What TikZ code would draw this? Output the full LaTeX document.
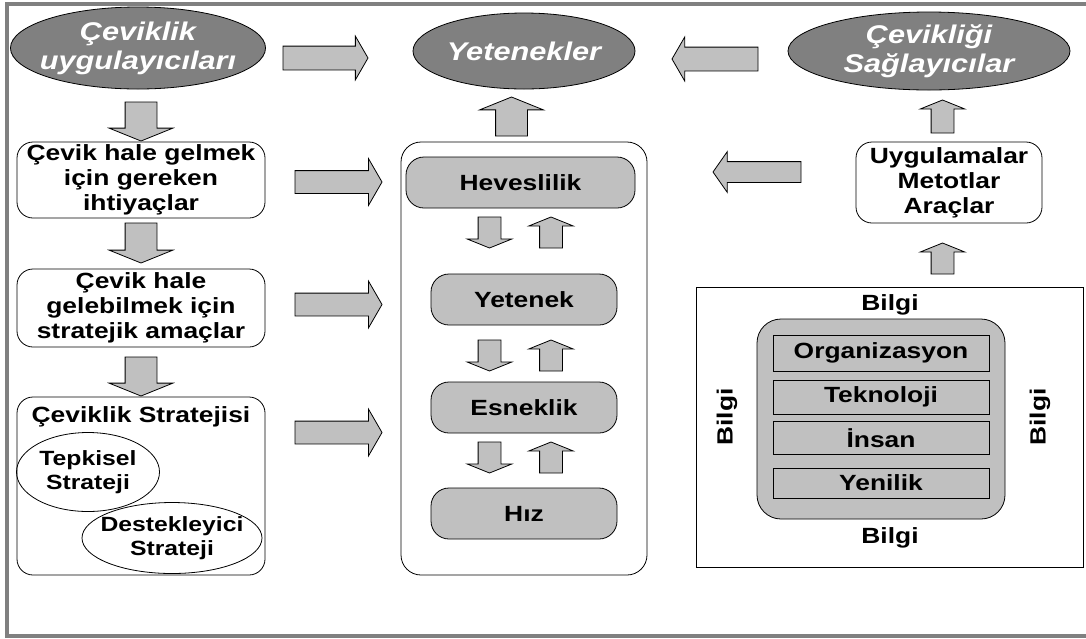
\documentclass[tikz,border=0pt]{standalone}
\usepackage{fontspec}
\setmainfont[FakeStretch=1.2]{Liberation Sans}
\usetikzlibrary{shapes.geometric, shapes.arrows, positioning}
\definecolor{darkGray}{RGB}{128,128,128}
\definecolor{lightGray}{RGB}{192,192,192}
\definecolor{frameGray}{RGB}{128,128,128}

\begin{document}
\begin{tikzpicture}[
    x=0.5pt, y=-0.5pt,
    actor/.style={ellipse, draw, fill=darkGray, text=white, align=center, inner xsep=-4pt, inner ysep=0pt, font=\fontsize{12.8}{14.5}\selectfont\bfseries\itshape},
    stepbox/.style={rectangle, draw, rounded corners=8pt, align=center, inner sep=1pt, font=\fontsize{11}{12.5}\selectfont\bfseries},
    pill/.style={rectangle, draw, fill=lightGray, rounded corners=9pt, minimum height=25.5pt, font=\fontsize{11}{12.5}\selectfont\bfseries},
    stratell/.style={ellipse, draw, align=center, inner xsep=-8pt, inner ysep=-2pt, font=\fontsize{10.3}{12}\selectfont\bfseries},
    layer/.style={rectangle, draw, fill=lightGray, minimum width=108pt, font=\fontsize{11}{12.5}\selectfont\bfseries},
    txt/.style={font=\fontsize{11}{12.5}\selectfont\bfseries},
    blockarrow/.style={single arrow, draw, fill=lightGray, outer sep=0pt, anchor=tail},
    widearrow/.style={blockarrow, inner xsep=0pt, inner ysep=5.5pt, single arrow head extend=6pt, single arrow tip angle=120, minimum height=43pt},
    fatarrow/.style={blockarrow, inner xsep=7.75pt, inner ysep=0pt, single arrow head extend=8pt, single arrow tip angle=136, minimum height=19.5pt},
    smallarrow/.style={blockarrow, inner xsep=5.5pt, inner ysep=0pt, single arrow head extend=5.5pt, single arrow tip angle=136, minimum height=15.5pt}
]
\useasboundingbox (0,0) rectangle (1086,638);
\draw[frameGray, line width=2pt] (1086,4) -| (7,636) -- (1086,636);

% top row
\node[actor, minimum width=126.5pt, minimum height=41pt] (users) at (138,48) {Çeviklik\\uygulayıcıları};
\node[actor, minimum width=111pt, minimum height=38pt] (abil) at (524,51) {Yetenekler};
\node[actor, minimum width=141pt, minimum height=39pt] (prov) at (929,51) {Çevikliği\\Sağlayıcılar};

\node[widearrow, inner ysep=5.75pt, single arrow head extend=5pt, minimum height=42.5pt] (a1) at (283,58) {};
\node[widearrow, inner ysep=5.75pt, single arrow head extend=5pt, shape border rotate=180] (a2) at (758,59) {};
\node[fatarrow, shape border rotate=90] (a3) at (511.5,136) {};
\node[smallarrow, shape border rotate=90, minimum height=16.5pt] (a4) at (942.5,133) {};

% left column
\node[stepbox, minimum width=124pt, minimum height=38pt] (needs) at (141,180) {Çevik hale gelmek\\için gereken\\ihtiyaçlar};
\node[stepbox, minimum width=124pt, minimum height=39pt] (goals) at (141,308) {Çevik hale\\gelebilmek için\\stratejik amaçlar};
\node[stepbox, minimum width=124pt, minimum height=89pt] (strat) at (141,486) {};
\node[txt] (strattitle) at (141,417) {Çeviklik Stratejisi};
\node[stratell, minimum width=71.5pt, minimum height=39.5pt] (react) at (88,472) {Tepkisel\\Strateji};
\node[stratell, minimum width=90pt, minimum height=35.5pt] (supp) at (172,538) {Destekleyici\\Strateji};

\node[fatarrow, shape border rotate=270] (d1) at (141,102) {};
\node[fatarrow, shape border rotate=270, minimum height=20pt] (d2) at (141,223) {};
\node[fatarrow, shape border rotate=270] (d3) at (141,357) {};

\node[widearrow, minimum height=43.5pt] (r1) at (295,182) {};
\node[widearrow, minimum height=43.5pt] (r2) at (295,304.5) {};
\node[widearrow, minimum height=43.5pt] (r3) at (295,432.5) {};

% center column
\node[draw, rounded corners=10pt, minimum width=123pt, minimum height=216.5pt] (core) at (524,358.5) {};
\node[pill, minimum width=114.5pt] (eager) at (520.5,182.5) {Heveslilik};
\node[pill, minimum width=93pt] (skill) at (524,299.5) {Yetenek};
\node[pill, minimum width=93pt] (flex) at (524,407.5) {Esneklik};
\node[pill, minimum width=93pt] (speed) at (524,513.5) {Hız};

\foreach \y [count=\i] in {217,340,442} {
    \node[smallarrow, shape border rotate=270] (dn\i) at (489.5,\y) {};
    \node[smallarrow, shape border rotate=90] (up\i) at (551,\y+31) {};
}

% right column
\node[stepbox, minimum width=93pt, minimum height=40.5pt] (tools) at (949,182.5) {Uygulamalar\\Metotlar\\Araçlar};
\node[blockarrow, inner xsep=0pt, inner ysep=5pt, single arrow head extend=5pt, single arrow tip angle=110, minimum height=44pt, shape border rotate=180] (a5) at (801,172) {};
\node[smallarrow, shape border rotate=90] (a6) at (942.5,274) {};

\node[draw, minimum width=193.5pt, minimum height=140pt] (info) at (889.5,427) {};
\node[draw, fill=lightGray, rounded corners=12pt, minimum width=124pt, minimum height=100pt] (base) at (881,419) {};
\node[layer, minimum height=18pt] (org) at (881,353) {Organizasyon};
\node[layer, minimum height=15pt] (tech) at (881,397) {Teknoloji};
\node[layer, minimum height=15pt] (people) at (881,438) {İnsan};
\node[layer, minimum height=15pt] (innov) at (881,483) {Yenilik};

\node[txt] (bN) at (890,305) {Bilgi};
\node[txt] (bS) at (890,538) {Bilgi};
\node[txt, rotate=90] (bW) at (727,417) {Bilgi};
\node[txt, rotate=90] (bE) at (1040,417) {Bilgi};
\end{tikzpicture}
\end{document}
